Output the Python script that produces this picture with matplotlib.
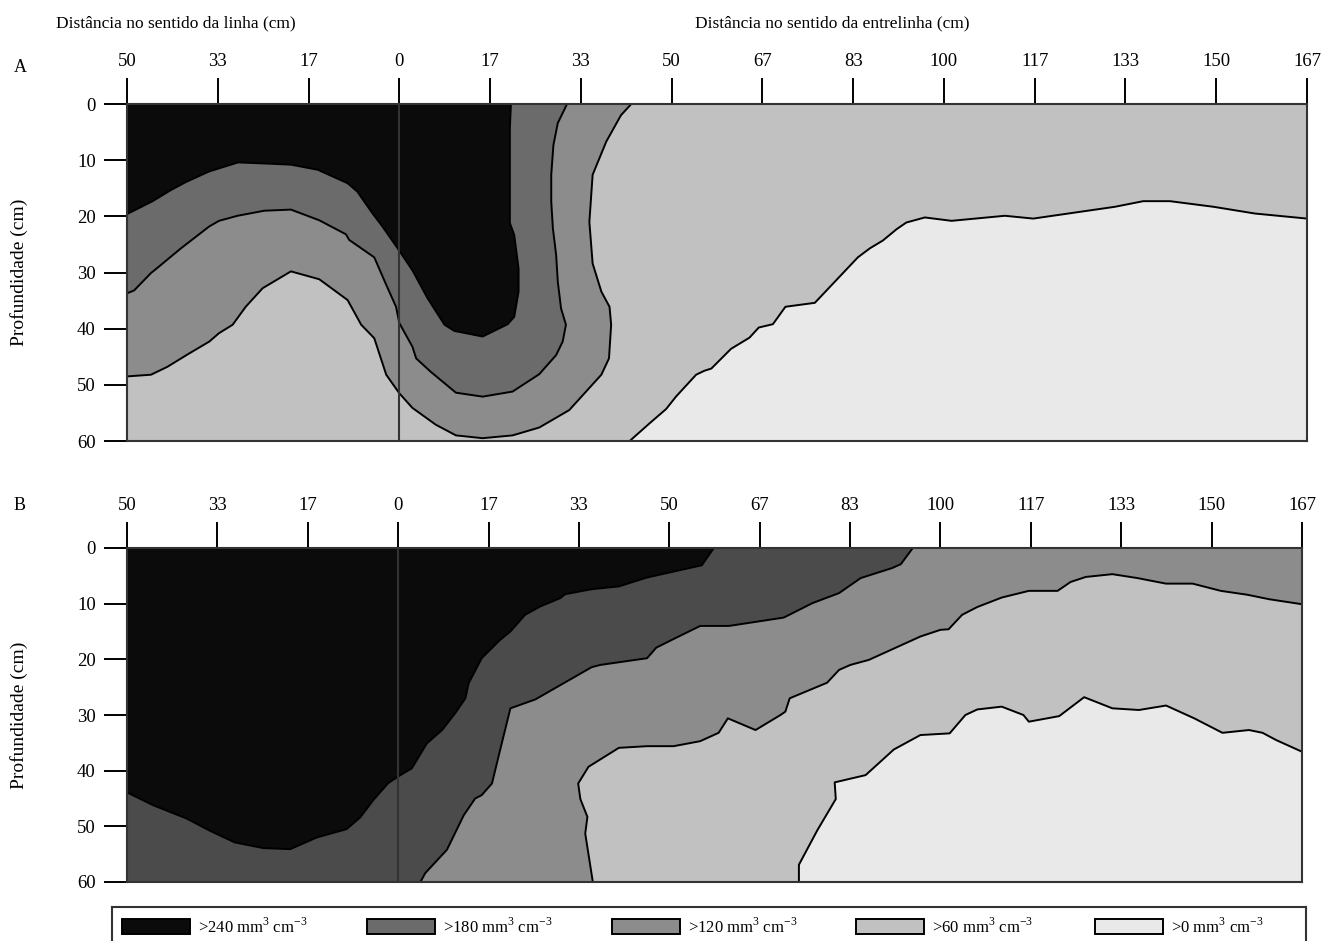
import numpy as np
import matplotlib
matplotlib.use("Agg")
import matplotlib.pyplot as plt
from matplotlib.patches import Rectangle

plt.rcParams["font.family"] = ["Liberation Serif", "DejaVu Serif"]
plt.rcParams["mathtext.fontset"] = "custom"
plt.rcParams["mathtext.rm"] = "Liberation Serif"

# AXIS SETUP (cm)

X_MIN, X_MAX = -50, 166.67
DEPTH_MAX = 60
x_ticks = np.arange(-50, 167, 50 / 3)
x_tick_labels = ["50", "33", "17", "0", "17", "33", "50", "67", "83",
                 "100", "117", "133", "150", "167"]
y_ticks = [0, 10, 20, 30, 40, 50, 60]

levels = [">240", ">180", ">120", ">60", ">0"]
colors_a = ["#0b0b0b", "#6b6b6b", "#8c8c8c", "#c1c1c1", "#e9e9e9"]
colors_b = ["#0b0b0b", "#4b4b4b", "#8c8c8c", "#c1c1c1", "#e9e9e9"]

# PANEL A BOUNDARIES (distance, depth)

a_240_x = [-50, -45.3, -41.9, -39.2, -34.9, -29.6, -24.5, -19.9, -15.0, -9.5, -7.7,
           -4.9, -3.1, -0.3, 2.4, 5.2, 8.3, 10.1, 15.3, 19.9, 21.1, 21.9, 21.9,
           21.1, 20.3, 20.3, 20.5]
a_240_y = [19.6, 17.3, 15.3, 13.9, 12.0, 10.4, 10.6, 10.8, 11.7, 14.1, 15.6,
           19.5, 21.8, 25.7, 29.6, 34.6, 39.3, 40.4, 41.4, 39.2, 37.9, 33.4, 29.3,
           23.3, 21.2, 4.3, 0]

a_180_x = [-50, -48.7, -45.6, -44.7, -40.1, -34.9, -33.1, -29.7, -24.8, -19.9, -14.7,
           -9.8, -9.2, -4.6, -2.4, -0.6, 0, 2.4, 3.1, 5.8, 10.4, 15.3, 20.8, 25.7,
           28.8, 30.0, 30.6, 29.7, 29.1, 28.8, 28.2, 27.9, 27.9, 28.3, 29.1, 30.8]
a_180_y = [33.7, 33.2, 30.1, 29.4, 25.7, 21.8, 20.8, 19.9, 19.0, 18.8, 20.7,
           23.2, 24.2, 27.3, 32.2, 36.1, 39.0, 43.2, 45.3, 47.7, 51.4, 52.1, 51.2, 48.1,
           44.7, 42.3, 39.3, 36.4, 31.6, 26.9, 22.1, 17.4, 12.6, 7.3, 3.4, 0]

a_120_x = [-50, -45.6, -42.6, -38.9, -34.9, -33.1, -30.6, -28.2, -25.1, -19.9, -14.7,
           -9.5, -7.0, -4.6, -2.4, 0, 2.4, 6.7, 10.4, 15.3, 20.8, 25.7, 31.2, 37.1,
           38.5, 38.9, 38.6, 37.1, 35.5, 34.9, 35.5, 38.0, 40.7, 42.6]
a_120_y = [48.5, 48.2, 46.8, 44.6, 42.3, 40.8, 39.3, 36.1, 32.8, 29.8, 31.2,
           34.9, 39.3, 41.7, 48.2, 51.5, 54.1, 57.1, 59.0, 59.5, 59.0, 57.6, 54.5, 48.2,
           45.3, 39.3, 36.1, 33.4, 28.4, 21.0, 12.6, 6.7, 2.0, 0]

a_60_x = [42.3, 45.9, 49.0, 50.8, 54.5, 56.0, 57.3, 60.9, 64.3, 66.0, 68.6, 70.9,
          76.3, 84.2, 86.4, 88.8, 91.3, 93.1, 96.5, 101.4, 111.2, 116.4, 131.4,
          136.6, 141.5, 149.5, 157.1, 166.67]
a_60_y = [60, 56.9, 54.3, 52.1, 48.2, 47.5, 47.1, 43.6, 41.6, 39.8, 39.2, 36.1,
          35.4, 27.3, 25.7, 24.3, 22.3, 21.1, 20.2, 20.8, 19.9, 20.4, 18.3,
          17.3, 17.3, 18.3, 19.5, 20.4]

# PANEL B BOUNDARIES (distance, depth)

b_240_x = [-50, -45.2, -39.0, -34.7, -30.1, -24.9, -19.9, -15.0, -9.5, -7.0, -4.6,
           -1.8, 0.4, 2.5, 5.3, 8.1, 10.5, 12.4, 13.0, 15.4, 18.8, 20.7, 23.4, 26.2,
           29.9, 30.8, 35.7, 40.7, 45.9, 56.0, 58.2]
b_240_y = [43.9, 46.2, 48.6, 50.8, 52.9, 53.9, 54.1, 52.0, 50.5, 48.4, 45.3,
           42.2, 40.8, 39.6, 35.1, 32.7, 29.7, 27.0, 24.3, 19.8, 16.5, 15.0, 12.0, 10.5,
           9.0, 8.3, 7.4, 6.9, 5.3, 3.1, 0]

b_180_x = [4.1, 5.0, 9.0, 12.1, 14.2, 15.4, 17.3, 18.8, 20.7, 25.3, 30.5, 35.7, 37.3,
           45.9, 47.6, 51.1, 55.7, 61.0, 71.1, 76.4, 81.3, 85.3, 91.1, 92.7, 94.9]
b_180_y = [60, 58.4, 54.2, 48.0, 45.0, 44.4, 42.3, 36.3, 28.8, 27.2, 24.3, 21.4, 21.0,
           19.8, 17.9, 16.2, 14.0, 14.0, 12.5, 9.9, 8.1, 5.4, 3.6, 2.9, 0]

b_120_x = [35.9, 34.5, 34.9, 33.6, 33.2, 35.1, 40.7, 45.9, 50.8, 55.7, 59.1, 60.8,
           65.9, 70.5, 71.4, 72.2, 79.1, 81.3, 83.4, 86.8, 92.0, 96.3, 100.0, 101.5,
           104.0, 106.8, 111.3, 116.3, 121.6, 124.0, 126.8, 131.7, 136.3, 141.6,
           146.5, 151.7, 156.6, 160.6, 166.67]
b_120_y = [60, 51.3, 48.3, 45.1, 42.3, 39.3, 35.9, 35.6, 35.6, 34.7, 33.2, 30.6,
           32.7, 30.0, 29.4, 27.0, 24.2, 21.9, 21.0, 20.1, 17.8, 15.9, 14.7, 14.6,
           12.0, 10.6, 8.9, 7.7, 7.7, 6.1, 5.2, 4.7, 5.4, 6.4,
           6.4, 7.7, 8.4, 9.2, 10.1]

b_60_x = [73.9, 73.9, 77.3, 80.7, 80.5, 86.2, 91.4, 96.3, 101.7, 104.6, 106.8, 111.3,
          115.3, 116.3, 121.9, 126.5, 131.7, 136.6, 141.6, 146.8, 152.0, 156.9,
          159.4, 161.9, 166.67]
b_60_y = [60, 56.9, 50.7, 45.1, 42.1, 40.8, 36.2, 33.6, 33.3, 30.0, 29.0, 28.5,
          30.0, 31.2, 30.2, 26.8, 28.8, 29.1, 28.3, 30.6, 33.2, 32.7,
          33.2, 34.5, 36.6]


def region(bx, by):
    # close a boundary against the right/bottom edges of the section
    xs = list(bx)
    ys = list(by)
    if ys[-1] == 0:
        xs += [X_MAX, X_MAX]
        ys += [0, DEPTH_MAX]
    else:
        xs += [X_MAX]
        ys += [DEPTH_MAX]
    if xs[0] == X_MIN:
        xs += [X_MIN]
        ys += [DEPTH_MAX]
    return xs, ys


def draw_panel(ax, boundaries, colors, label_x):
    ax.set_facecolor(colors[0])
    for (bx, by), c in zip(boundaries, colors[1:]):
        xs, ys = region(bx, by)
        ax.fill(xs, ys, color=c, lw=0, zorder=1)
    for bx, by in boundaries:
        ax.plot(bx, by, color="black", lw=1.4, zorder=2)
    ax.axvline(0, color="#333333", lw=1.5, zorder=3)
    ax.set_xlim(X_MIN, X_MAX)
    ax.set_ylim(DEPTH_MAX, 0)
    ax.xaxis.tick_top()
    ax.set_xticks(x_ticks)
    ax.set_xticklabels(x_tick_labels, fontsize=13.5)
    ax.set_yticks(y_ticks)
    ax.set_yticklabels([str(v) for v in y_ticks], fontsize=13.5)
    ax.tick_params(axis="x", direction="out", length=18.5, width=1.4, pad=6,
                   colors="black")
    ax.tick_params(axis="y", direction="out", length=16.5, width=1.4, pad=6)
    for s in ax.spines.values():
        s.set_color("#333333")
        s.set_linewidth(1.5)
    ax.set_ylabel("Profundidade (cm)", fontsize=14)
    ax.yaxis.set_label_coords(label_x, 0.5)


fig = plt.figure(figsize=(13.24, 9.41), dpi=100)
W, H = 1324, 941

ax_a = fig.add_axes([127 / W, 1 - 441 / H, (1307 - 127) / W, (441 - 104) / H])
ax_b = fig.add_axes([127 / W, 1 - 882 / H, (1302 - 127) / W, (882 - 548) / H])

draw_panel(ax_a, [(a_240_x, a_240_y), (a_180_x, a_180_y),
                  (a_120_x, a_120_y), (a_60_x, a_60_y)], colors_a,
           (28 - 127) / (1307 - 127))
draw_panel(ax_b, [(b_240_x, b_240_y), (b_180_x, b_180_y),
                  (b_120_x, b_120_y), (b_60_x, b_60_y)], colors_b,
           (28 - 127) / (1302 - 127))

fig.text(176 / W, 1 - 23 / H, "Distância no sentido da linha (cm)",
         ha="center", va="center", fontsize=12.5)
fig.text(832 / W, 1 - 23 / H, "Distância no sentido da entrelinha (cm)",
         ha="center", va="center", fontsize=12.5)
fig.text(20 / W, 1 - 67 / H, "A", ha="center", va="center", fontsize=13)
fig.text(20 / W, 1 - 505 / H, "B", ha="center", va="center", fontsize=13)

# LEGEND

ax_leg = fig.add_axes([112 / W, -0.02, (1306 - 112) / W, (941 - 907) / H + 0.02])
ax_leg.set_xlim(112, 1306)
ax_leg.set_ylim(941 + 0.02 * H, 907)
ax_leg.set_xticks([])
ax_leg.set_yticks([])
for s in ax_leg.spines.values():
    s.set_color("#333333")
    s.set_linewidth(1.5)

leg_x = [122, 367, 612, 856, 1095]
leg_colors = ["#0b0b0b", "#6b6b6b", "#8c8c8c", "#c1c1c1", "#e9e9e9"]
for lx, c, lab in zip(leg_x, leg_colors, levels):
    ax_leg.add_patch(Rectangle((lx, 919), 68, 15, facecolor=c,
                               edgecolor="black", lw=1.4))
    ax_leg.text(lx + 76, 927, lab + r" mm$^{3}$ cm$^{-3}$", ha="left",
                va="center", fontsize=12)

fig.savefig("out.png", dpi=100)
